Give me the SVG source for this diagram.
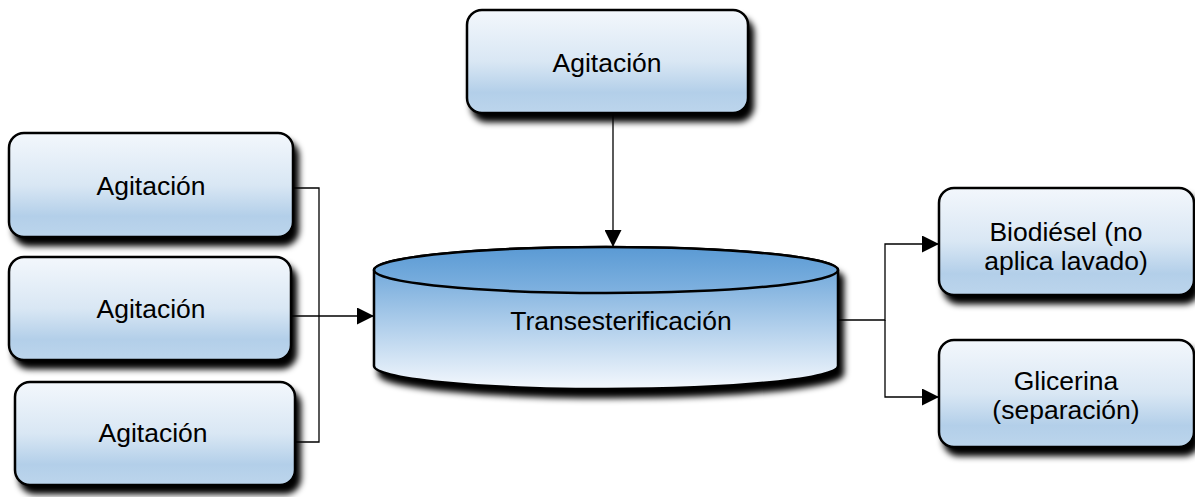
<svg xmlns="http://www.w3.org/2000/svg" width="1195" height="497" viewBox="0 0 1195 497">
<defs>
<linearGradient id="boxg" x1="0" y1="0" x2="0" y2="1">
<stop offset="0" stop-color="#f3f7fc"/>
<stop offset="0.5" stop-color="#d9e7f4"/>
<stop offset="0.8" stop-color="#b3cfe9"/>
<stop offset="1" stop-color="#bcd5ec"/>
</linearGradient>
<linearGradient id="cylg" x1="0" y1="0" x2="0" y2="1">
<stop offset="0" stop-color="#5b9bd5"/>
<stop offset="1" stop-color="#f4f8fd"/>
</linearGradient>
<linearGradient id="topg" x1="0" y1="0" x2="0" y2="1">
<stop offset="0" stop-color="#5a9ad4"/>
<stop offset="1" stop-color="#80b2e0"/>
</linearGradient>
<filter id="sh" x="-10%" y="-10%" width="125%" height="140%">
<feDropShadow dx="5" dy="8" stdDeviation="3" flood-color="#000" flood-opacity="1"/>
</filter>
<marker id="arr" viewBox="0 0 10 10" refX="10" refY="5" markerWidth="17" markerHeight="17" markerUnits="userSpaceOnUse" orient="auto">
<path d="M0,0 L10,5 L0,10 z" fill="#000"/>
</marker>
</defs>
<style>
.box{fill:url(#boxg);stroke:#000;stroke-width:2.5;filter:url(#sh)}
.t{font-family:"Liberation Sans",Arial,sans-serif;font-size:26.5px;fill:#000;text-anchor:middle}
.c{fill:none;stroke:#000;stroke-width:1.3}
</style>
<g id="connectors">
<path class="c" d="M613,113 V247" marker-end="url(#arr)"/>
<path class="c" d="M293,188 H319 V442 H295"/>
<path class="c" d="M291,316 H374" marker-end="url(#arr)"/>
<path class="c" d="M838,320 H885 V244 H939" marker-end="url(#arr)"/>
<path class="c" d="M885,320 V397 H939" marker-end="url(#arr)"/>
</g>
<g id="n-top">
<rect class="box" x="467" y="10" width="281" height="103" rx="15"/>
<text class="t" x="607" y="72">Agitación</text>
</g>
<g id="n-left1">
<rect class="box" x="9" y="133" width="284" height="104" rx="15"/>
<text class="t" x="151" y="195">Agitación</text>
</g>
<g id="n-left2">
<rect class="box" x="9" y="257" width="282" height="103" rx="15"/>
<text class="t" x="151" y="318">Agitación</text>
</g>
<g id="n-left3">
<rect class="box" x="15" y="382" width="280" height="103" rx="15"/>
<text class="t" x="153" y="442">Agitación</text>
</g>
<g id="n-trans">
<path d="M374,270 V366 A232,23 0 0 0 838,366 V270 A232,23 0 0 0 374,270 z" fill="url(#cylg)" stroke="#000" stroke-width="2.5" filter="url(#sh)"/>
<ellipse cx="606" cy="270" rx="232" ry="23" fill="url(#topg)" stroke="#000" stroke-width="2.5"/>
<text class="t" x="621" y="330">Transesterificación</text>
</g>
<g id="n-bio">
<rect class="box" x="939" y="188" width="255" height="107" rx="15"/>
<text class="t" x="1066" y="241">Biodiésel (no</text>
<text class="t" x="1066" y="270">aplica lavado)</text>
</g>
<g id="n-gli">
<rect class="box" x="939" y="340" width="255" height="107" rx="15"/>
<text class="t" x="1066" y="390">Glicerina</text>
<text class="t" x="1066" y="419">(separación)</text>
</g>
</svg>
